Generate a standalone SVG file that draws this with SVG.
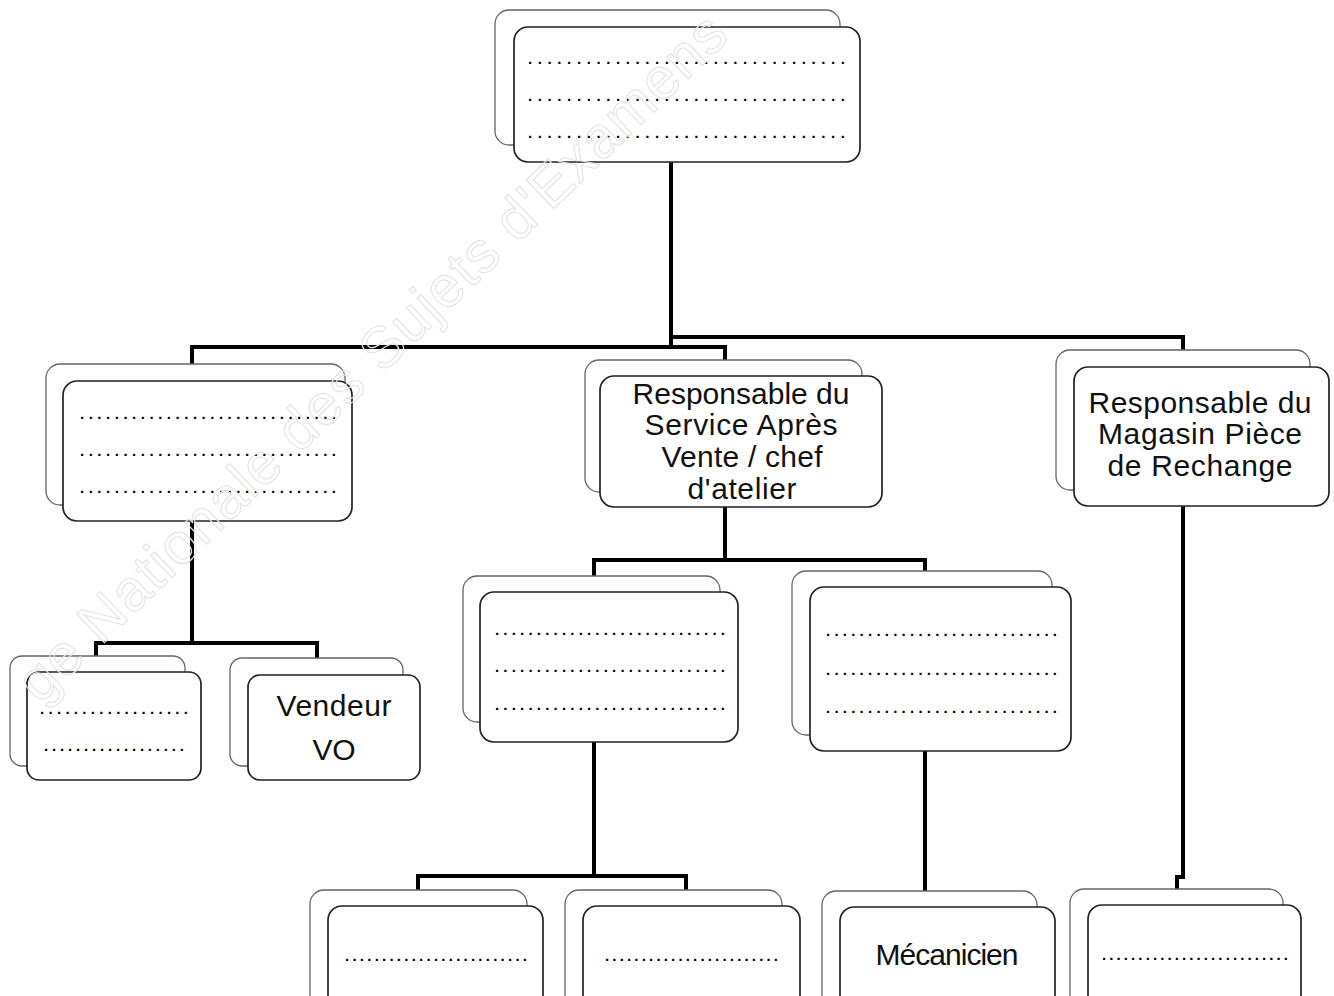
<svg xmlns="http://www.w3.org/2000/svg" width="1334" height="996" viewBox="0 0 1334 996">
<style>
.bg{fill:#fff}
.sh{fill:#fff;stroke:#666;stroke-width:1.3}
.fr{fill:#fff;stroke:#222;stroke-width:1.7}
.lbl{font-family:"Liberation Sans",Arial,sans-serif;font-size:30px;fill:#111;text-anchor:middle}
.dots{font-family:"Liberation Sans",Arial,sans-serif;font-size:15px;font-weight:bold;fill:#000}
.conn{fill:none;stroke:#000;stroke-width:4;stroke-linejoin:miter}
.wm{font-family:"Liberation Sans",Arial,sans-serif;font-size:58px;fill:none;stroke:#e4e4e4;stroke-width:1.2}
</style>
<rect class="bg" x="0" y="0" width="1334" height="996"/>
<g id="connectors">
<path class="conn" d="M671 162 V347"/>
<path class="conn" d="M671 337 H1183 V352"/>
<path class="conn" d="M192 366 V347 H725 V361"/>
<path class="conn" d="M192 521 V643"/>
<path class="conn" d="M96 658 V643 H317 V660"/>
<path class="conn" d="M725 507 V560"/>
<path class="conn" d="M594 577 V560 H925 V572"/>
<path class="conn" d="M594 742 V876"/>
<path class="conn" d="M418 891 V876 H686 V891"/>
<path class="conn" d="M925 751 V891"/>
<path class="conn" d="M1183 506 V877 H1177 V890"/>
</g>
<g id="node-top">
<rect class="sh" x="495" y="10" width="345" height="135" rx="14"/>
<rect class="fr" x="514" y="27" width="346" height="135" rx="14"/>
<text class="dots" x="528" y="64" textLength="317" lengthAdjust="spacing">.................................</text>
<text class="dots" x="528" y="101" textLength="317" lengthAdjust="spacing">.................................</text>
<text class="dots" x="528" y="138" textLength="317" lengthAdjust="spacing">.................................</text>
</g>
<g id="node-left">
<rect class="sh" x="46" y="364" width="299" height="141" rx="14"/>
<rect class="fr" x="63" y="381" width="289" height="140" rx="14"/>
<text class="dots" x="80" y="419" textLength="256" lengthAdjust="spacing">..............................</text>
<text class="dots" x="80" y="456" textLength="256" lengthAdjust="spacing">..............................</text>
<text class="dots" x="80" y="493" textLength="256" lengthAdjust="spacing">..............................</text>
</g>
<g id="node-rsav">
<rect class="sh" x="585" y="360" width="277" height="132" rx="14"/>
<rect class="fr" x="600" y="376" width="282" height="131" rx="14"/>
<text class="lbl" x="741" y="404" textLength="217" lengthAdjust="spacing">Responsable du</text>
<text class="lbl" x="741" y="435" textLength="193" lengthAdjust="spacing">Service Après</text>
<text class="lbl" x="742" y="467" textLength="161" lengthAdjust="spacing">Vente / chef</text>
<text class="lbl" x="742" y="499" textLength="109" lengthAdjust="spacing">d'atelier</text>
</g>
<g id="node-magasin">
<rect class="sh" x="1056" y="350" width="254" height="140" rx="14"/>
<rect class="fr" x="1074" y="367" width="255" height="139" rx="14"/>
<text class="lbl" x="1200" y="413" textLength="223" lengthAdjust="spacing">Responsable du</text>
<text class="lbl" x="1200" y="444" textLength="204" lengthAdjust="spacing">Magasin Pièce</text>
<text class="lbl" x="1200" y="476" textLength="185" lengthAdjust="spacing">de Rechange</text>
</g>
<g id="node-a">
<rect class="sh" x="10" y="656" width="175" height="110" rx="12"/>
<rect class="fr" x="27" y="672" width="174" height="108" rx="12"/>
<text class="dots" x="40" y="714" textLength="148" lengthAdjust="spacing">..................</text>
<text class="dots" x="44" y="751" textLength="140" lengthAdjust="spacing">..................</text>
</g>
<g id="node-vendeur">
<rect class="sh" x="230" y="658" width="173" height="108" rx="12"/>
<rect class="fr" x="248" y="675" width="172" height="105" rx="12"/>
<text class="lbl" x="334" y="716" textLength="115" lengthAdjust="spacing">Vendeur</text>
<text class="lbl" x="334" y="760" textLength="43" lengthAdjust="spacing">VO</text>
</g>
<g id="node-c">
<rect class="sh" x="463" y="576" width="257" height="146" rx="14"/>
<rect class="fr" x="480" y="592" width="258" height="150" rx="14"/>
<text class="dots" x="495" y="635" textLength="230" lengthAdjust="spacing">............................</text>
<text class="dots" x="495" y="672" textLength="230" lengthAdjust="spacing">............................</text>
<text class="dots" x="495" y="710" textLength="230" lengthAdjust="spacing">............................</text>
</g>
<g id="node-d">
<rect class="sh" x="792" y="571" width="260" height="164" rx="14"/>
<rect class="fr" x="810" y="587" width="261" height="164" rx="14"/>
<text class="dots" x="826" y="636" textLength="231" lengthAdjust="spacing">............................</text>
<text class="dots" x="826" y="675" textLength="231" lengthAdjust="spacing">............................</text>
<text class="dots" x="826" y="713" textLength="231" lengthAdjust="spacing">............................</text>
</g>
<g id="node-e">
<rect class="sh" x="310" y="890" width="217" height="130" rx="14"/>
<rect class="fr" x="328" y="906" width="215" height="120" rx="14"/>
<text class="dots" x="345" y="961" textLength="182" lengthAdjust="spacing">.........................</text>
</g>
<g id="node-f">
<rect class="sh" x="565" y="890" width="217" height="130" rx="14"/>
<rect class="fr" x="583" y="906" width="217" height="120" rx="14"/>
<text class="dots" x="605" y="961" textLength="173" lengthAdjust="spacing">........................</text>
</g>
<g id="node-mecanicien">
<rect class="sh" x="822" y="891" width="215" height="130" rx="14"/>
<rect class="fr" x="840" y="907" width="215" height="120" rx="14"/>
<text class="lbl" x="947" y="965" textLength="143" lengthAdjust="spacing">Mécanicien</text>
</g>
<g id="node-h">
<rect class="sh" x="1070" y="889" width="213" height="130" rx="14"/>
<rect class="fr" x="1088" y="905" width="213" height="120" rx="14"/>
<text class="dots" x="1102" y="960" textLength="186" lengthAdjust="spacing">..........................</text>
</g>
<text class="wm" transform="translate(40,705) rotate(-44)" textLength="960" lengthAdjust="spacing">ge Nationale des Sujets d'Examens</text>
</svg>
